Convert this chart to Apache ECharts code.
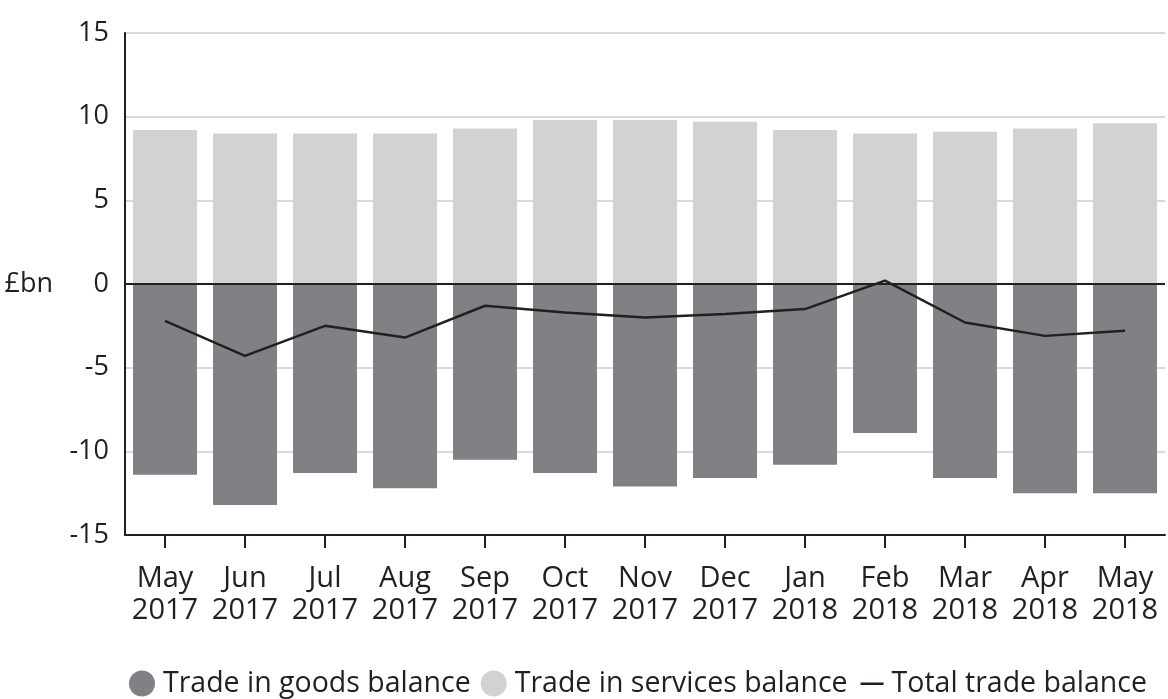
<!DOCTYPE html>
<html>
<head>
<meta charset="utf-8">
<script src="https://cdn.jsdelivr.net/npm/echarts@6/dist/echarts.min.js"></script>
<style>
  html, body { margin: 0; padding: 0; background: #ffffff; }
  #chart { width: 1168px; height: 699px; }
</style>
</head>
<body>
<div id="chart"></div>
<script>
// UK trade balance by month, £bn
const months = ['May\n2017', 'Jun\n2017', 'Jul\n2017', 'Aug\n2017', 'Sep\n2017', 'Oct\n2017', 'Nov\n2017',
                'Dec\n2017', 'Jan\n2018', 'Feb\n2018', 'Mar\n2018', 'Apr\n2018', 'May\n2018'];
const goodsBalance    = [-11.4, -13.2, -11.3, -12.2, -10.5, -11.3, -12.1, -11.6, -10.8, -8.9, -11.6, -12.5, -12.5];
const servicesBalance = [9.2, 9.0, 9.0, 9.0, 9.3, 9.8, 9.8, 9.7, 9.2, 9.0, 9.1, 9.3, 9.6];
const totalBalance    = [-2.2, -4.3, -2.5, -3.2, -1.3, -1.7, -2.0, -1.8, -1.5, 0.2, -2.3, -3.1, -2.8];
const yTicks = { min: -15, max: 15, step: 5 };

const ink = '#231f20';
const fontFamily = '"Open Sans", "Noto Sans", sans-serif';

const chart = echarts.init(document.getElementById('chart'));
chart.setOption({
  animation: false,
  backgroundColor: '#ffffff',
  textStyle: { fontFamily: fontFamily, color: ink },
  grid: { left: 125, right: 3, top: 33, bottom: 164, containLabel: false, outerBoundsMode: 'none' },
  legend: {
    left: 124,
    top: 664,
    itemWidth: 26,
    itemHeight: 26,
    itemGap: 10,
    textStyle: { fontSize: 28.5, color: ink, fontFamily: fontFamily, padding: [0, 0, 0, 3] },
    data: [
      { name: 'Trade in goods balance', icon: 'circle' },
      { name: 'Trade in services balance', icon: 'circle' },
      { name: 'Total trade balance', icon: 'path://M0,0 L0.01,0 Z M3,12 L26,12 L26,14.5 L3,14.5 Z M0,26 L0.01,26 Z' }
    ]
  },
  xAxis: {
    type: 'category',
    data: months,
    boundaryGap: true,
    axisLine: { onZero: false, lineStyle: { color: ink, width: 2 } },
    axisTick: { show: true, alignWithLabel: true, length: 13, lineStyle: { color: ink, width: 2 } },
    axisLabel: { fontSize: 29, color: ink, lineHeight: 32, margin: 28, interval: 0, fontFamily: fontFamily },
    splitLine: { show: false }
  },
  yAxis: {
    type: 'value',
    min: yTicks.min,
    max: yTicks.max,
    interval: yTicks.step,
    name: '£bn',
    nameLocation: 'middle',
    nameRotate: 0,
    nameGap: 72,
    nameTextStyle: { fontSize: 27, color: ink, fontFamily: fontFamily },
    axisLine: { show: true, lineStyle: { color: ink, width: 2 } },
    axisTick: { show: false },
    axisLabel: { fontSize: 27, color: ink, margin: 16, fontFamily: fontFamily },
    splitLine: { show: true, lineStyle: { color: '#d9d9da', width: 2 } }
  },
  series: [
    {
      name: 'Trade in goods balance',
      type: 'bar',
      stack: 'balance',
      data: goodsBalance,
      barWidth: '80%',
      itemStyle: { color: '#808184' },
      z: 2
    },
    {
      name: 'Trade in services balance',
      type: 'bar',
      stack: 'balance',
      data: servicesBalance,
      barWidth: '80%',
      itemStyle: { color: '#d1d2d4' },
      z: 2,
      markLine: {
        silent: true,
        symbol: ['none', 'none'],
        label: { show: false },
        lineStyle: { color: ink, width: 2, type: 'solid' },
        data: [{ yAxis: 0 }],
        z: 3
      }
    },
    {
      name: 'Total trade balance',
      type: 'line',
      data: totalBalance,
      symbol: 'none',
      lineStyle: { color: ink, width: 2.5 },
      itemStyle: { color: ink },
      z: 5
    }
  ]
});
</script>
</body>
</html>
